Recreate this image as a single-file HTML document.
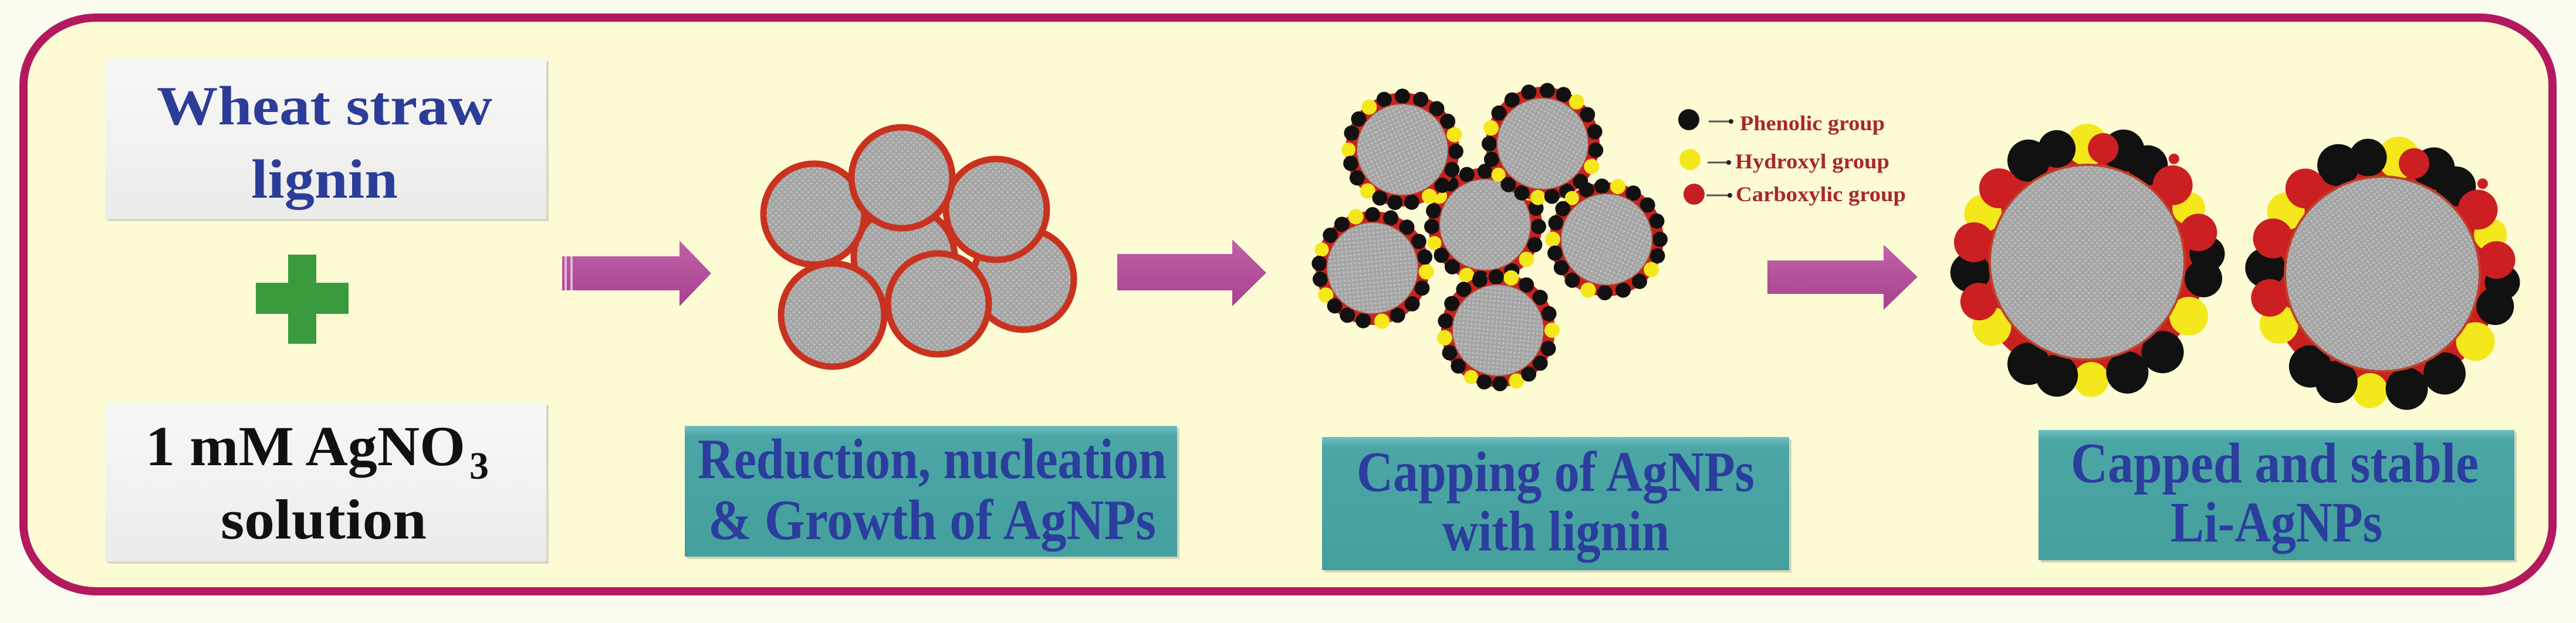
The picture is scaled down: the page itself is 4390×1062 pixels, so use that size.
<!DOCTYPE html>
<html><head><meta charset="utf-8"><style>
html,body{margin:0;padding:0;background:#fff;}
svg{display:block;}
text{font-family:"Liberation Serif",serif;font-weight:bold;}
</style></head><body>
<svg width="4390" height="1062" viewBox="0 0 4390 1062" xmlns="http://www.w3.org/2000/svg">
<defs>
<pattern id="gp" width="10" height="10" patternUnits="userSpaceOnUse">
<rect width="10" height="10" fill="#a4a4a4"/>
<circle cx="2.5" cy="2.5" r="2" fill="#bcbcbc"/><circle cx="7.5" cy="7.5" r="2" fill="#bcbcbc"/>
</pattern>
<linearGradient id="wb" x1="0" y1="0" x2="0" y2="1"><stop offset="0" stop-color="#f8f8f6"/><stop offset="1" stop-color="#ebebea"/></linearGradient>
<linearGradient id="tb" x1="0" y1="0" x2="0" y2="1"><stop offset="0" stop-color="#6fbfc2"/><stop offset="0.08" stop-color="#4ba6a5"/><stop offset="1" stop-color="#44a09d"/></linearGradient>
<linearGradient id="ag" x1="0" y1="0" x2="0" y2="1"><stop offset="0" stop-color="#c061a8"/><stop offset="1" stop-color="#a8418f"/></linearGradient>
<g id="ring">
<circle r="97" fill="#c8211f"/>
<g fill="#f4e81c">
<circle transform="rotate(54)" cx="0" cy="-92" r="13"/><circle transform="rotate(130)" cx="0" cy="-92" r="13"/><circle transform="rotate(200)" cx="0" cy="-92" r="13"/><circle transform="rotate(302)" cx="0" cy="-92" r="13"/><circle transform="rotate(250)" cx="0" cy="-92" r="12"/>
</g>
<g fill="#111">
<circle cx="0" cy="-91" r="13"/><circle transform="rotate(20)" cx="0" cy="-91" r="13"/><circle transform="rotate(38)" cx="0" cy="-91" r="13"/><circle transform="rotate(72)" cx="0" cy="-91" r="13"/><circle transform="rotate(92)" cx="0" cy="-91" r="13"/><circle transform="rotate(112)" cx="0" cy="-91" r="13"/><circle transform="rotate(150)" cx="0" cy="-91" r="13"/><circle transform="rotate(168)" cx="0" cy="-91" r="13"/><circle transform="rotate(185)" cx="0" cy="-91" r="13"/><circle transform="rotate(218)" cx="0" cy="-91" r="13"/><circle transform="rotate(235)" cx="0" cy="-91" r="13"/><circle transform="rotate(268)" cx="0" cy="-91" r="13"/><circle transform="rotate(285)" cx="0" cy="-91" r="13"/><circle transform="rotate(320)" cx="0" cy="-91" r="13"/><circle transform="rotate(340)" cx="0" cy="-91" r="13"/>
</g>
<circle r="78" fill="url(#gp)" stroke="#b8402e" stroke-width="2"/>
</g>
<g id="big">
<circle r="200" fill="#c8211f"/>
<g fill="#f4e81c">
<circle transform="rotate(0)" cx="0" cy="-200" r="36"/><circle transform="rotate(62)" cx="0" cy="-196" r="28"/><circle transform="rotate(118)" cx="0" cy="-196" r="33"/><circle transform="rotate(178)" cx="0" cy="-200" r="30"/><circle transform="rotate(236)" cx="0" cy="-196" r="33"/><circle transform="rotate(295)" cx="0" cy="-196" r="32"/>
</g>
<g fill="#111">
<circle transform="rotate(18)" cx="0" cy="-200" r="36"/><circle transform="rotate(32)" cx="0" cy="-195" r="34"/><circle transform="rotate(86)" cx="0" cy="-205" r="30"/><circle transform="rotate(98)" cx="0" cy="-200" r="32"/><circle transform="rotate(140)" cx="0" cy="-200" r="36"/><circle transform="rotate(160)" cx="0" cy="-200" r="36"/><circle transform="rotate(195)" cx="0" cy="-200" r="36"/><circle transform="rotate(210)" cx="0" cy="-200" r="36"/><circle transform="rotate(265)" cx="0" cy="-200" r="34"/><circle transform="rotate(330)" cx="0" cy="-200" r="36"/><circle transform="rotate(345)" cx="0" cy="-200" r="32"/>
</g>
<g fill="#cc1f22">
<circle transform="rotate(48)" cx="0" cy="-196" r="34"/><circle transform="rotate(75)" cx="0" cy="-196" r="32"/><circle transform="rotate(250)" cx="0" cy="-196" r="32"/><circle transform="rotate(280)" cx="0" cy="-196" r="34"/><circle transform="rotate(310)" cx="0" cy="-196" r="34"/><circle transform="rotate(8)" cx="0" cy="-196" r="26"/><circle transform="rotate(40)" cx="0" cy="-230" r="9"/>
</g>
<circle r="166" fill="url(#gp)" stroke="#c0402a" stroke-width="4"/>
</g>
</defs>

<rect x="0" y="0" width="4390" height="1062" fill="#fbfbf0"/>
<rect x="40" y="30" width="4310" height="978" rx="125" ry="115" fill="#fdfbd4" stroke="#b3195e" stroke-width="14"/>

<rect x="183" y="104" width="752" height="273" fill="#d8d6c4"/>
<rect x="179" y="100" width="752" height="273" fill="url(#wb)"/>
<text x="267" y="212" font-size="94" fill="#2b3d97" textLength="572" lengthAdjust="spacingAndGlyphs">Wheat straw</text>
<text x="428" y="337" font-size="94" fill="#2b3d97" textLength="250" lengthAdjust="spacingAndGlyphs">lignin</text>

<rect x="183" y="690" width="752" height="271" fill="#d8d6c4"/>
<rect x="179" y="686" width="752" height="271" fill="url(#wb)"/>
<text x="248" y="793" font-size="96" fill="#111" textLength="545" lengthAdjust="spacingAndGlyphs">1 mM AgNO</text>
<text x="800" y="816" font-size="66" fill="#111">3</text>
<text x="376" y="918" font-size="96" fill="#111" textLength="351" lengthAdjust="spacingAndGlyphs">solution</text>

<rect x="491" y="434" width="48" height="152" fill="#3a9a3e"/>
<rect x="436" y="482" width="158" height="53" fill="#3a9a3e"/>

<path d="M958 437 H1158 V410 L1212 466 L1158 522 V495 H958 Z" fill="url(#ag)"/>
<rect x="962" y="437" width="4" height="58" fill="#e6b6da"/><rect x="972" y="437" width="4" height="58" fill="#e6b6da"/>
<path d="M1904 433 H2100 V408 L2158 465 L2100 522 V495 H1904 Z" fill="url(#ag)"/>
<path d="M3012 444 H3210 V417 L3268 472 L3210 528 V501 H3012 Z" fill="url(#ag)"/>

<g fill="url(#gp)" stroke="#c9321f" stroke-width="11">
<circle cx="1541" cy="438" r="86"/>
<circle cx="1387" cy="365" r="86"/>
<circle cx="1744" cy="476" r="86"/>
<circle cx="1698" cy="357" r="86"/>
<circle cx="1537" cy="303" r="86"/>
<circle cx="1419" cy="537" r="88"/>
<circle cx="1599" cy="518" r="86"/>
</g>

<use href="#ring" transform="translate(2531,383)"/>
<use href="#ring" transform="translate(2390,255) rotate(20)"/>
<use href="#ring" transform="translate(2629,245) rotate(-15)"/>
<use href="#ring" transform="translate(2339,457) rotate(40)"/>
<use href="#ring" transform="translate(2738,408) rotate(70)"/>
<use href="#ring" transform="translate(2553,563) rotate(-40)"/>

<circle cx="2878" cy="204" r="18" fill="#111"/>
<circle cx="2880" cy="272" r="18" fill="#f4e81c"/>
<circle cx="2887" cy="331" r="18" fill="#c41f22"/>
<g stroke="#555" stroke-width="3"><line x1="2912" y1="207" x2="2948" y2="207"/><line x1="2910" y1="277" x2="2944" y2="277"/><line x1="2908" y1="333" x2="2946" y2="333"/></g>
<g fill="#222"><circle cx="2950" cy="207" r="4"/><circle cx="2946" cy="277" r="4"/><circle cx="2948" cy="333" r="4"/></g>
<g fill="#a8282a" font-size="36">
<text x="2965" y="222" textLength="247" lengthAdjust="spacingAndGlyphs">Phenolic group</text>
<text x="2957" y="287" textLength="263" lengthAdjust="spacingAndGlyphs">Hydroxyl group</text>
<text x="2958" y="343" textLength="290" lengthAdjust="spacingAndGlyphs">Carboxylic group</text>
</g>

<use href="#big" transform="translate(3557,447)"/>
<use href="#big" transform="translate(4060,467) rotate(8)"/>

<rect x="1171" y="730" width="839" height="223" fill="#d6d4b8"/>
<rect x="1167" y="726" width="839" height="223" fill="url(#tb)"/>
<g fill="#2b3d9d" font-size="98">
<text x="1189" y="815" textLength="799" lengthAdjust="spacingAndGlyphs">Reduction, nucleation</text>
<text x="1207" y="919" textLength="763" lengthAdjust="spacingAndGlyphs">&amp; Growth of  AgNPs</text>
</g>
<rect x="2257" y="749" width="796" height="227" fill="#d6d4b8"/>
<rect x="2253" y="745" width="796" height="227" fill="url(#tb)"/>
<g fill="#2b3d9d" font-size="98">
<text x="2312" y="837" textLength="678" lengthAdjust="spacingAndGlyphs">Capping of AgNPs</text>
<text x="2458" y="938" textLength="387" lengthAdjust="spacingAndGlyphs">with lignin</text>
</g>
<rect x="3478" y="737" width="811" height="222" fill="#d6d4b8"/>
<rect x="3474" y="733" width="811" height="222" fill="url(#tb)"/>
<g fill="#2b3d9d" font-size="98">
<text x="3529" y="822" textLength="695" lengthAdjust="spacingAndGlyphs">Capped and stable</text>
<text x="3699" y="923" textLength="361" lengthAdjust="spacingAndGlyphs">Li-AgNPs</text>
</g>
</svg>
</body></html>
